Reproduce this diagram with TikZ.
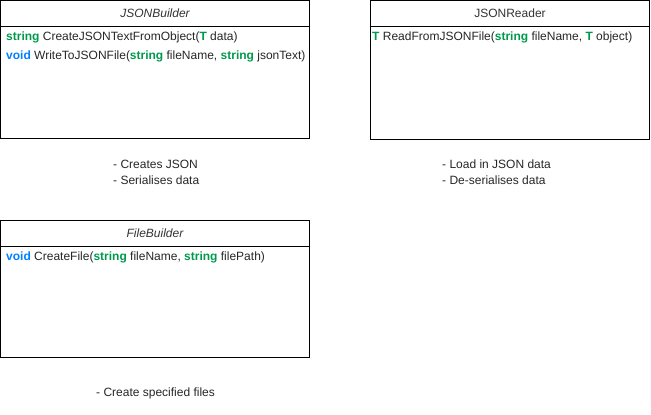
\documentclass[tikz,border=0pt]{standalone}
\usepackage{fontspec}
\setmainfont{Liberation Sans}
\usetikzlibrary{positioning}
\definecolor{kwgreen}{RGB}{0,153,76}
\definecolor{kwblue}{RGB}{0,127,255}
\definecolor{headgrey}{RGB}{51,51,51}
\newcommand{\kwg}[1]{\textcolor{kwgreen}{\textbf{#1}}}
\newcommand{\kwb}[1]{\textcolor{kwblue}{\textbf{#1}}}

\begin{document}
\begin{tikzpicture}[x=1pt, y=-1pt,
  classhead/.style={draw, line width=1pt, outer sep=0pt, inner sep=0pt, minimum height=26pt, anchor=north west, font=\fontsize{12}{14}\selectfont\itshape, text=headgrey},
  classbody/.style={draw, line width=1pt, outer sep=0pt, inner sep=0pt},
  method/.style={anchor=west, inner sep=0pt, font=\fontsize{12}{14}\selectfont, text=black!85},
  note/.style={anchor=west, align=left, inner sep=0pt, font=\fontsize{12}{16}\selectfont, text=black!85}
]
  \useasboundingbox (0,0) rectangle (651,415);

  % JSONBuilder
  \node[classhead, minimum width=309pt] (builderhead) at (0.5,0.5) {JSONBuilder};
  \node[classbody, minimum width=309pt, minimum height=112pt, below=0pt of builderhead] (builderbody) {};
  \node[method] (buildercreate) at (6,37) {\kwg{string} CreateJSONTextFromObject(\kwg{T} data)};
  \node[method] (builderwrite) at (6,56) {\kwb{void} WriteToJSONFile(\kwg{string} fileName, \kwg{string} jsonText)};
  \node[note] (buildernote) at (113,172.5) {- Creates JSON\\- Serialises data};

  % JSONReader
  \node[classhead, minimum width=279pt, font=\fontsize{12}{14}\selectfont] (readerhead) at (370.5,0.5) {JSONReader};
  \node[classbody, minimum width=279pt, minimum height=113pt, below=0pt of readerhead] (readerbody) {};
  \node[method] (readerread) at (372,37) {\kwg{T} ReadFromJSONFile(\kwg{string} fileName, \kwg{T} object)};
  \node[note] (readernote) at (442,172.5) {- Load in JSON data\\- De-serialises data};

  % FileBuilder
  \node[classhead, minimum width=309pt] (filehead) at (0.5,220.5) {FileBuilder};
  \node[classbody, minimum width=309pt, minimum height=111pt, below=0pt of filehead] (filebody) {};
  \node[method] (filecreate) at (6,257) {\kwb{void} CreateFile(\kwg{string} fileName, \kwg{string} filePath)};
  \node[note] (filenote) at (96,393) {- Create specified files};
\end{tikzpicture}
\end{document}
